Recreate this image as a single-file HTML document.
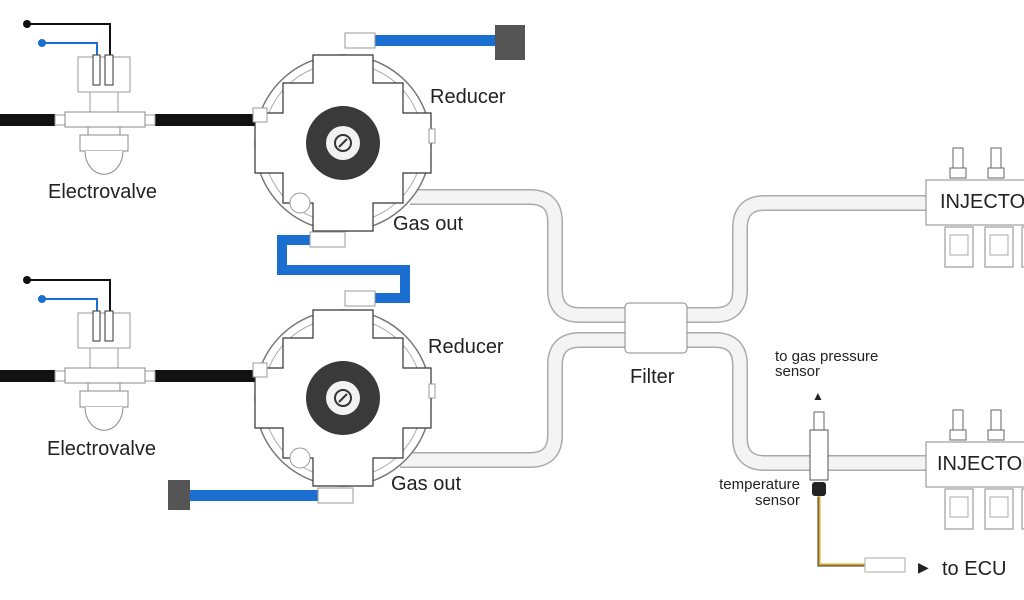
<!DOCTYPE html>
<html><head><meta charset="utf-8"><style>
html,body{margin:0;padding:0;background:#fff;width:1024px;height:600px;overflow:hidden}
svg{display:block}
text{font-family:"Liberation Sans",sans-serif;fill:#222}
</style></head><body>
<svg width="1024" height="600" viewBox="0 0 1024 600" xmlns="http://www.w3.org/2000/svg">
<defs>
<g id="ev">
  <polyline points="27,24 110,24 110,57" fill="none" stroke="#111" stroke-width="2"/>
  <circle cx="27" cy="24" r="4" fill="#111"/>
  <polyline points="42,43 97,43 97,57" fill="none" stroke="#1a6fd0" stroke-width="2"/>
  <circle cx="42" cy="43" r="4" fill="#1a6fd0"/>
  <rect x="78" y="57" width="52" height="35" fill="#fff" stroke="#999"/>
  <rect x="93" y="55" width="7" height="30" fill="#fff" stroke="#333"/>
  <rect x="105" y="55" width="8" height="30" fill="#fff" stroke="#333"/>
  <rect x="90" y="92" width="28" height="20" fill="#fff" stroke="#999"/>
  <rect x="0" y="114" width="55" height="12" fill="#111"/>
  <rect x="155" y="114" width="100" height="12" fill="#111"/>
  <rect x="55" y="115" width="10" height="10" fill="#fff" stroke="#999"/>
  <rect x="145" y="115" width="10" height="10" fill="#fff" stroke="#999"/>
  <rect x="65" y="112" width="80" height="15" fill="#fff" stroke="#888"/>
  <rect x="88" y="127" width="32" height="8" fill="#fff" stroke="#888"/>
  <rect x="80" y="135" width="48" height="16" fill="#fff" stroke="#888"/>
  <path d="M85 151 A18 22 0 0 0 123 151" fill="#fff" stroke="#888"/>
</g>
<g id="red">
  <circle cx="0" cy="0" r="88" fill="#fff" stroke="#777" stroke-width="1.5"/>
  <circle cx="0" cy="0" r="80" fill="none" stroke="#aaa"/>
  <circle cx="0" cy="0" r="66" fill="none" stroke="#999"/>
  <circle cx="0" cy="0" r="58" fill="none" stroke="#aaa"/>
  <path d="M-30 -88 L-30 -60 L-60 -60 L-60 -30 L-88 -30 L-88 30 L-60 30 L-60 60 L-30 60 L-30 88 L30 88 L30 60 L60 60 L60 30 L88 30 L88 -30 L60 -30 L60 -60 L30 -60 L30 -88 Z" fill="#fff" stroke="#333" stroke-width="1.2"/>
  <circle cx="0" cy="0" r="37" fill="#3a3a3a"/>
  <circle cx="0" cy="0" r="17" fill="#f2f2f2"/>
  <circle cx="0" cy="0" r="8" fill="none" stroke="#333" stroke-width="2"/>
  <line x1="-4" y1="4" x2="4" y2="-4" stroke="#333" stroke-width="2"/>
  <circle cx="-43" cy="60" r="10" fill="#fff" stroke="#999"/>
  <rect x="-90" y="-35" width="14" height="14" fill="#fff" stroke="#999"/>
  <rect x="86" y="-14" width="6" height="14" fill="#fff" stroke="#999"/>
</g>
<g id="inj">
  <rect x="953" y="-32" width="10" height="22" fill="#fff" stroke="#666"/>
  <rect x="950" y="-12" width="16" height="10" fill="#fff" stroke="#666"/>
  <rect x="991" y="-32" width="10" height="22" fill="#fff" stroke="#666"/>
  <rect x="988" y="-12" width="16" height="10" fill="#fff" stroke="#666"/>
  <rect x="926" y="0" width="100" height="45" fill="#fff" stroke="#888"/>
  <rect x="945" y="47" width="28" height="40" fill="#fff" stroke="#888"/>
  <rect x="985" y="47" width="28" height="40" fill="#fff" stroke="#888"/>
  <rect x="1022" y="47" width="10" height="40" fill="#fff" stroke="#888"/>
  <rect x="950" y="55" width="18" height="20" fill="none" stroke="#aaa"/>
  <rect x="990" y="55" width="18" height="20" fill="none" stroke="#aaa"/>
</g>
</defs>

<!-- gas tubes -->
<g fill="none" stroke-linejoin="round">
  <path d="M410 197 H530 Q555 197 555 222 V290 Q555 315 580 315 H625" stroke="#aaa" stroke-width="16"/>
  <path d="M410 197 H530 Q555 197 555 222 V290 Q555 315 580 315 H625" stroke="#f4f4f4" stroke-width="13"/>
  <path d="M400 460 H530 Q555 460 555 435 V365 Q555 340 580 340 H625" stroke="#aaa" stroke-width="16"/>
  <path d="M400 460 H530 Q555 460 555 435 V365 Q555 340 580 340 H625" stroke="#f4f4f4" stroke-width="13"/>
  <path d="M687 315 H715 Q740 315 740 290 V228 Q740 203 765 203 H926" stroke="#aaa" stroke-width="16"/>
  <path d="M687 315 H715 Q740 315 740 290 V228 Q740 203 765 203 H926" stroke="#f4f4f4" stroke-width="13"/>
  <path d="M687 340 H715 Q740 340 740 365 V438 Q740 463 765 463 H926" stroke="#aaa" stroke-width="16"/>
  <path d="M687 340 H715 Q740 340 740 365 V438 Q740 463 765 463 H926" stroke="#f4f4f4" stroke-width="13"/>
</g>
<rect x="625" y="303" width="62" height="50" rx="4" fill="#fff" stroke="#888"/>

<!-- blue pipes -->
<rect x="375" y="35" width="125" height="11" fill="#1a6fd0"/>
<rect x="495" y="25" width="30" height="35" fill="#555"/>
<rect x="345" y="33" width="30" height="15" fill="#fff" stroke="#999"/>
<path d="M318 240 H282 V270 H405 V298 H375" fill="none" stroke="#1a6fd0" stroke-width="10"/>
<rect x="185" y="490" width="135" height="11" fill="#1a6fd0"/>
<rect x="168" y="480" width="22" height="30" fill="#555"/>

<use href="#ev"/>
<use href="#ev" y="256"/>
<use href="#red" x="343" y="143"/>
<use href="#red" x="343" y="398"/>
<rect x="310" y="232" width="35" height="15" fill="#fff" stroke="#999"/>
<rect x="318" y="488" width="35" height="15" fill="#fff" stroke="#999"/>
<rect x="345" y="291" width="30" height="15" fill="#fff" stroke="#999"/>

<use href="#inj" y="180"/>
<use href="#inj" y="442"/>

<!-- sensor -->
<rect x="814" y="412" width="10" height="18" fill="#fff" stroke="#666"/>
<rect x="810" y="430" width="18" height="50" fill="#fff" stroke="#555"/>
<rect x="812" y="482" width="14" height="14" rx="3" fill="#222"/>
<path d="M819 496 V565 H865" fill="none" stroke="#d8a830" stroke-width="3"/>
<path d="M819 496 V565 H865" fill="none" stroke="#333" stroke-width="1" transform="translate(-1,1)"/>
<rect x="865" y="558" width="40" height="14" fill="#fff" stroke="#aaa"/>
<text x="918" y="572" font-size="14">▶</text>
<text x="818" y="400" font-size="12" text-anchor="middle">▲</text>

<text x="430" y="103" font-size="20">Reducer</text>
<text x="393" y="230" font-size="20">Gas out</text>
<text x="48" y="198" font-size="20">Electrovalve</text>
<text x="428" y="353" font-size="20">Reducer</text>
<text x="391" y="490" font-size="20">Gas out</text>
<text x="47" y="455" font-size="20">Electrovalve</text>
<text x="630" y="383" font-size="20">Filter</text>
<text x="940" y="208" font-size="20">INJECTOR</text>
<text x="937" y="470" font-size="20">INJECTOR</text>
<text x="775" y="361" font-size="15">to gas pressure</text>
<text x="775" y="376" font-size="15">sensor</text>
<text x="800" y="489" font-size="15" text-anchor="end">temperature</text>
<text x="800" y="505" font-size="15" text-anchor="end">sensor</text>
<text x="942" y="575" font-size="20">to ECU</text>
</svg>
</body></html>
